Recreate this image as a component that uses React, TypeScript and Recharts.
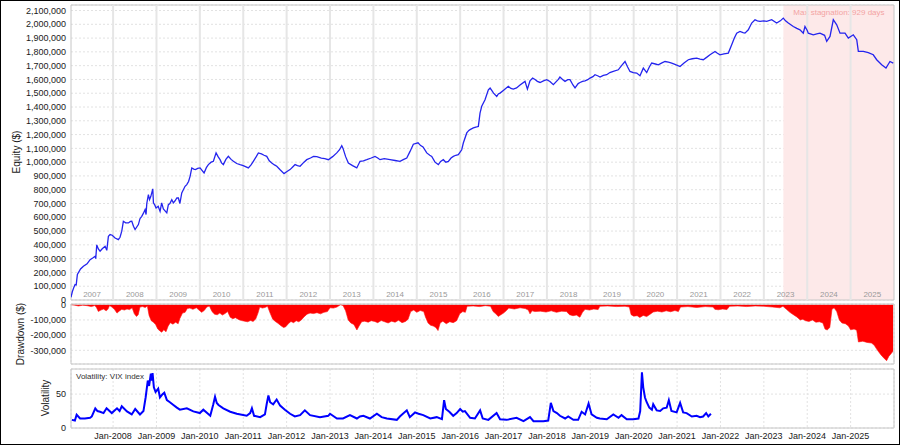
import React from 'react';
import {
  LineChart,
  Line,
  AreaChart,
  Area,
  XAxis,
  YAxis,
  CartesianGrid,
  ReferenceLine,
  ReferenceArea,
} from 'recharts';

const FONT = '"Liberation Sans", Arial, Helvetica, sans-serif';

// ---------- axis setup (fractional years) ----------
const X_MIN = 2007.03;
const X_MAX = 2026.0;
const yearBoundaries = [2008, 2009, 2010, 2011, 2012, 2013, 2014, 2015, 2016, 2017, 2018, 2019, 2020, 2021, 2022, 2023, 2024, 2025];
const yearLabels = ['2007', '2008', '2009', '2010', '2011', '2012', '2013', '2014', '2015', '2016', '2017', '2018', '2019', '2020', '2021', '2022', '2023', '2024', '2025'];
const bandStarts = [X_MIN, ...yearBoundaries];
const bandEnds = [...yearBoundaries, X_MAX];

const EQ_MAX = 2140; // $ thousands
const equityTicks = [0, 100, 200, 300, 400, 500, 600, 700, 800, 900, 1000, 1100, 1200, 1300, 1400, 1500, 1600, 1700, 1800, 1900, 2000, 2100];
const DD_MIN = -390;
const DD_MAX = 5;
const drawdownTicks = [-300, -200, -100, 0];
const VIX_MAX = 87;
const vixTicks = [0, 50];

const stagnationStart = 2023.45;
const stagnationLabel = 'Max stagnation: 929 days';

// ---------- equity ($ thousands) ----------
const eqDates = [
  2007.03, 2007.06, 2007.1, 2007.124, 2007.15, 2007.177, 2007.25, 2007.316, 2007.4, 2007.47, 2007.53, 2007.585, 2007.6, 2007.624, 2007.66, 2007.7, 2007.75, 2007.816, 2007.855, 2007.892, 2007.931, 2007.98,
  2008.046, 2008.122, 2008.16, 2008.2, 2008.237, 2008.29, 2008.353, 2008.4, 2008.431, 2008.47, 2008.507, 2008.583, 2008.62, 2008.661, 2008.7, 2008.737, 2008.76, 2008.777, 2008.814, 2008.84, 2008.869, 2008.915, 2008.93, 2008.96, 2008.991,
  2009.04, 2009.083, 2009.12, 2009.159, 2009.238, 2009.274, 2009.31, 2009.353, 2009.39, 2009.429, 2009.47, 2009.505, 2009.54, 2009.583, 2009.659, 2009.699, 2009.74, 2009.775, 2009.814, 2009.86, 2009.9, 2009.95,
  2010.005, 2010.05, 2010.097, 2010.15, 2010.196, 2010.26, 2010.312, 2010.374, 2010.42, 2010.466, 2010.5, 2010.542, 2010.6, 2010.657, 2010.72, 2010.773, 2010.85, 2010.927,
  2011.0, 2011.118, 2011.18, 2011.233, 2011.3, 2011.349, 2011.42, 2011.48, 2011.542, 2011.6, 2011.657, 2011.72, 2011.773, 2011.85, 2011.941,
  2012.0, 2012.079, 2012.14, 2012.195, 2012.25, 2012.31, 2012.4, 2012.464, 2012.55, 2012.62, 2012.695, 2012.8, 2012.88, 2012.962,
  2013.06, 2013.156, 2013.22, 2013.271, 2013.3, 2013.36, 2013.423, 2013.52, 2013.617, 2013.692, 2013.77, 2013.847, 2013.95,
  2014.038, 2014.1, 2014.153, 2014.25, 2014.384, 2014.5, 2014.614, 2014.7, 2014.769, 2014.845, 2014.921,
  2015.029, 2015.09, 2015.144, 2015.23, 2015.3, 2015.345, 2015.42, 2015.497, 2015.55, 2015.612, 2015.67, 2015.728, 2015.79, 2015.843, 2015.9, 2015.958,
  2016.036, 2016.073, 2016.152, 2016.2, 2016.228, 2016.304, 2016.38, 2016.419, 2016.458, 2016.497, 2016.573, 2016.65, 2016.69, 2016.728, 2016.77, 2016.843, 2016.88, 2016.919, 2016.995,
  2017.11, 2017.17, 2017.226, 2017.3, 2017.38, 2017.495, 2017.55, 2017.61, 2017.67, 2017.726, 2017.78, 2017.841, 2017.92, 2017.995,
  2018.07, 2018.148, 2018.263, 2018.3, 2018.36, 2018.417, 2018.48, 2018.532, 2018.6, 2018.648, 2018.72, 2018.763, 2018.82, 2018.878, 2018.94, 2018.993,
  2019.06, 2019.108, 2019.18, 2019.224, 2019.3, 2019.378, 2019.45, 2019.53, 2019.645, 2019.72, 2019.8, 2019.86, 2019.915, 2019.99,
  2020.07, 2020.145, 2020.222, 2020.3, 2020.36, 2020.415, 2020.5, 2020.568, 2020.65, 2020.722, 2020.8, 2020.876, 2020.98,
  2021.068, 2021.16, 2021.259, 2021.35, 2021.452, 2021.53, 2021.604, 2021.68, 2021.759, 2021.874, 2021.93, 2021.989,
  2022.08, 2022.181, 2022.259, 2022.32, 2022.374, 2022.45, 2022.52, 2022.565, 2022.642, 2022.72, 2022.796, 2022.85, 2022.911,
  2023.0, 2023.066, 2023.181, 2023.296, 2023.38, 2023.448, 2023.5, 2023.564, 2023.679, 2023.76, 2023.833, 2023.909, 2023.948,
  2024.0, 2024.024, 2024.14, 2024.22, 2024.294, 2024.4, 2024.449, 2024.525, 2024.601, 2024.68, 2024.756, 2024.871, 2024.947,
  2025.062, 2025.141, 2025.178, 2025.293, 2025.408, 2025.522, 2025.601, 2025.716, 2025.815, 2025.907, 2025.983,
];
const eqValuesK = [
  20, 60, 95, 112, 110, 185, 225, 245, 262, 293, 305, 317, 300, 400, 370, 354, 372, 390, 360, 462, 475, 470,
  450, 438, 455, 499, 571, 560, 559, 570, 571, 535, 511, 547, 590, 607, 630, 656, 620, 700, 764, 728, 750, 806, 705, 690, 668,
  680, 643, 705, 660, 632, 692, 700, 728, 705, 720, 740, 740, 700, 777, 825, 837, 860, 897, 958, 950, 946, 955,
  958, 940, 922, 960, 982, 1000, 1006, 1067, 1040, 1018, 995, 982, 1020, 1042, 1020, 1006, 990, 982,
  975, 958, 980, 1006, 1040, 1067, 1060, 1050, 1042, 1010, 994, 980, 970, 945, 917,
  930, 946, 965, 982, 975, 970, 1000, 1018, 1030, 1042, 1040, 1030, 1025, 1018,
  1040, 1067, 1090, 1120, 1100, 1040, 994, 975, 958, 1006, 1010, 1018, 1030,
  1042, 1030, 1018, 1025, 1018, 1012, 1006, 1020, 1030, 1078, 1130,
  1140, 1120, 1110, 1067, 1050, 1042, 1000, 982, 1005, 1018, 1000, 1006, 1030, 1042, 1050, 1054,
  1090, 1139, 1212, 1230, 1236, 1248, 1255, 1259, 1356, 1405, 1453, 1525, 1538, 1520, 1501, 1477, 1495, 1501, 1520,
  1550, 1535, 1530, 1538, 1560, 1586, 1530, 1590, 1610, 1600, 1586, 1578, 1590, 1598,
  1585, 1562, 1600, 1617, 1600, 1586, 1598, 1598, 1560, 1538, 1570, 1578, 1586, 1590, 1598, 1610,
  1620, 1634, 1625, 1617, 1630, 1634, 1650, 1658, 1670, 1700, 1730, 1690, 1658, 1650,
  1646, 1627, 1682, 1650, 1690, 1719, 1712, 1706, 1720, 1730, 1725, 1719, 1705,
  1694, 1720, 1743, 1750, 1755, 1748, 1743, 1760, 1779, 1803, 1790, 1779,
  1785, 1791, 1851, 1900, 1936, 1948, 1940, 1936, 1960, 2009, 2033, 2025, 2021,
  2025, 2021, 2033, 2009, 2025, 2045, 2025, 2009, 1984, 1970, 1960, 1936, 1984,
  1955, 1936, 1924, 1930, 1936, 1920, 1876, 1912, 2033, 1996, 1936, 1936, 1900,
  1924, 1888, 1803, 1803, 1795, 1779, 1743, 1706, 1682, 1730, 1719,
];

// ---------- drawdown ($ thousands) ----------
const ddDates = [
  2007.03, 2007.12, 2007.2, 2007.3, 2007.4, 2007.5, 2007.58, 2007.62, 2007.66, 2007.72, 2007.78, 2007.84, 2007.88, 2007.92, 2007.97,
  2008.03, 2008.09, 2008.14, 2008.2, 2008.26, 2008.32, 2008.38, 2008.44, 2008.49, 2008.54, 2008.58, 2008.62, 2008.68, 2008.74, 2008.79, 2008.83, 2008.88, 2008.93, 2008.98,
  2009.03, 2009.08, 2009.12, 2009.17, 2009.22, 2009.27, 2009.32, 2009.38, 2009.44, 2009.5, 2009.54, 2009.6, 2009.66, 2009.71, 2009.77, 2009.84, 2009.92, 2009.98,
  2010.04, 2010.1, 2010.16, 2010.22, 2010.28, 2010.34, 2010.4, 2010.46, 2010.52, 2010.58, 2010.64, 2010.7, 2010.76, 2010.82, 2010.9, 2010.96,
  2011.03, 2011.1, 2011.17, 2011.23, 2011.29, 2011.34, 2011.38, 2011.44, 2011.5, 2011.56, 2011.62, 2011.68, 2011.74, 2011.8, 2011.87, 2011.93, 2011.98,
  2012.04, 2012.1, 2012.16, 2012.22, 2012.28, 2012.34, 2012.4, 2012.47, 2012.54, 2012.62, 2012.7, 2012.78, 2012.86, 2012.94,
  2013.0, 2013.08, 2013.16, 2013.24, 2013.3, 2013.36, 2013.42, 2013.48, 2013.55, 2013.62, 2013.67, 2013.73, 2013.8, 2013.88, 2013.95,
  2014.03, 2014.1, 2014.18, 2014.26, 2014.34, 2014.42, 2014.5, 2014.58, 2014.66, 2014.74, 2014.8, 2014.86, 2014.93,
  2015.0, 2015.08, 2015.16, 2015.2, 2015.26, 2015.32, 2015.38, 2015.44, 2015.49, 2015.54, 2015.6, 2015.68, 2015.76, 2015.84, 2015.92, 2015.99,
  2016.06, 2016.12, 2016.16, 2016.3, 2016.45, 2016.58, 2016.7, 2016.76, 2016.82, 2016.88, 2016.94,
  2017.0, 2017.06, 2017.12, 2017.25, 2017.38, 2017.5, 2017.57, 2017.61, 2017.66, 2017.72, 2017.85, 2017.98,
  2018.1, 2018.22, 2018.34, 2018.45, 2018.52, 2018.6, 2018.68, 2018.76, 2018.82, 2018.88, 2018.98,
  2019.08, 2019.18, 2019.22, 2019.4, 2019.6, 2019.8, 2019.9, 2019.94,
  2020.0, 2020.08, 2020.14, 2020.22, 2020.3, 2020.38, 2020.45, 2020.55, 2020.65, 2020.75, 2020.85, 2020.95,
  2021.03, 2021.08, 2021.25, 2021.45, 2021.65, 2021.83, 2021.87, 2021.95,
  2022.05, 2022.15, 2022.21, 2022.4, 2022.6, 2022.8,
  2023.0, 2023.2, 2023.37, 2023.44, 2023.52, 2023.6, 2023.68, 2023.76, 2023.84, 2023.9, 2023.96,
  2024.04, 2024.12, 2024.2, 2024.28, 2024.36, 2024.41, 2024.46, 2024.52, 2024.57, 2024.62, 2024.68, 2024.74, 2024.8, 2024.88, 2024.95,
  2025.0, 2025.08, 2025.14, 2025.18, 2025.28, 2025.38, 2025.48, 2025.54, 2025.62, 2025.7, 2025.78, 2025.83, 2025.88, 2025.94, 2025.98,
];
const ddValuesK = [
  0, -3, -8, -3, -6, -12, -5, -20, -44, -35, -28, -40, -30, -5, -15,
  -30, -55, -42, -30, -35, -28, -32, -20, -60, -77, -65, -15, -12, -18, -8, -70, -105, -115, -130,
  -160, -172, -181, -165, -178, -140, -118, -128, -115, -125, -90, -55, -50, -25, -22, -30, -20, -35,
  -50, -38, -15, -8, -45, -62, -66, -55, -68, -58, -45, -82, -92, -85, -98, -104,
  -108, -112, -104, -110, -92, -55, -15, -22, -18, -10, -55, -95, -110, -122, -138, -150, -145,
  -125, -110, -118, -105, -112, -100, -80, -62, -55, -58, -52, -60, -50, -45,
  -20, -22, -15, 0, -5, -40, -100, -120, -130, -166, -140, -112, -108, -115, -105,
  -110, -118, -104, -112, -120, -108, -115, -102, -118, -110, -95, -45, -35,
  -50, -38, -45, -80, -120, -135, -140, -150, -170, -120, -108, -125, -112, -118, -105, -60,
  -45, -50, -10, -8, -12, -6, -10, -45, -60, -77, -65,
  -55, -40, -22, -28, -20, -25, -35, -60, -40, -45, -42, -48,
  -40, -50, -42, -45, -65, -72, -68, -82, -50, -30, -35,
  -28, -32, -10, -8, -12, -10, -15, -65,
  -75, -72, -84, -70, -78, -62, -48, -42, -48, -40, -46, -38,
  -45, -15, -12, -18, -12, -15, -30, -33,
  -28, -32, -10, -8, -12, -8,
  -10, -15, -20, -10, -30, -50, -65, -80, -100, -95, -105,
  -110, -100, -115, -112, -120, -160, -166, -150, -30, -20, -45, -100, -120, -125, -140,
  -165, -160, -168, -245, -240, -248, -252, -265, -300, -330, -355, -368, -340, -320, -305,
];

// ---------- VIX index ----------
const vixDates = [
  2007.05, 2007.12, 2007.16, 2007.24, 2007.35, 2007.47, 2007.51, 2007.59, 2007.64, 2007.7, 2007.78, 2007.85, 2007.97,
  2008.09, 2008.15, 2008.2, 2008.32, 2008.43, 2008.51, 2008.62, 2008.7, 2008.75, 2008.8, 2008.83, 2008.87, 2008.89, 2008.91, 2008.94, 2008.98,
  2009.04, 2009.08, 2009.14, 2009.18, 2009.24, 2009.31, 2009.39, 2009.47, 2009.54, 2009.7, 2009.85,
  2010.0, 2010.08, 2010.24, 2010.31, 2010.35, 2010.39, 2010.43, 2010.54, 2010.7, 2010.85,
  2011.08, 2011.16, 2011.2, 2011.25, 2011.39, 2011.5, 2011.54, 2011.58, 2011.62, 2011.69, 2011.77, 2011.85, 2011.96,
  2012.08, 2012.19, 2012.31, 2012.42, 2012.54, 2012.77, 2012.96,
  2013.0, 2013.16, 2013.3, 2013.46, 2013.62, 2013.69, 2013.77, 2013.92,
  2014.08, 2014.19, 2014.31, 2014.54, 2014.61, 2014.77, 2014.84, 2014.96,
  2015.04, 2015.15, 2015.31, 2015.46, 2015.58, 2015.63, 2015.67, 2015.75, 2015.84, 2015.92,
  2016.0, 2016.06, 2016.11, 2016.23, 2016.34, 2016.46, 2016.52, 2016.65, 2016.84, 2016.92,
  2017.07, 2017.3, 2017.46, 2017.61, 2017.69, 2017.92,
  2018.03, 2018.09, 2018.15, 2018.23, 2018.3, 2018.42, 2018.49, 2018.61, 2018.72, 2018.8, 2018.88, 2018.96,
  2019.03, 2019.15, 2019.22, 2019.38, 2019.53, 2019.65, 2019.72, 2019.84, 2019.99,
  2020.11, 2020.15, 2020.19, 2020.22, 2020.26, 2020.3, 2020.36, 2020.42, 2020.45, 2020.53, 2020.61, 2020.68, 2020.76, 2020.81, 2020.87, 2020.99,
  2021.07, 2021.14, 2021.22, 2021.34, 2021.45, 2021.53, 2021.6, 2021.67, 2021.72, 2021.78,
];
const vixValues = [
  12, 11, 19.6, 14, 14, 15, 17, 29, 25, 24, 22, 29, 22,
  29, 25, 32, 24.5, 20, 28, 20, 25, 45, 70, 62, 80, 70, 81, 60, 53,
  58, 45, 50, 52, 41, 38, 34, 30, 27, 29, 24.5,
  22, 27, 18, 35, 46, 37, 34, 29, 24, 21,
  18, 22, 29, 18, 16, 20, 35, 48, 38, 35, 42, 33, 27,
  21, 17, 19, 26, 19, 16, 18,
  21, 14, 14, 19, 14, 17, 18, 14,
  21, 16, 14, 12, 17, 26, 16, 23,
  21, 19, 14, 16, 13, 41, 28, 24, 18, 22,
  28, 24, 25, 15, 14, 26, 14, 12, 22, 13,
  12, 15, 10, 16, 10, 10,
  11, 37, 25, 22, 18, 14, 17, 12, 12, 24, 20, 36,
  20, 15, 14, 13, 20, 15, 19, 13, 13,
  14, 25, 82, 60, 45, 38, 30, 27, 35, 26, 25, 29, 30, 41, 25, 23,
  37, 23, 22, 17, 18, 16, 17, 22, 17, 21,
];

const fmtMoneyK = (v: number) => (v * 1000).toLocaleString('en-US');
const tickStyle = { fontSize: 9, fill: '#1a1a1a', fontFamily: FONT };
const BORDER = '#c6c6c6';
const GRID = '#e2e2e2';

const RotTitle = ({ text, cx, cy }: { text: string; cx: number; cy: number }) => (
  <div
    style={{
      position: 'absolute',
      left: cx,
      top: cy,
      transform: 'translate(-50%, -50%) rotate(-90deg)',
      whiteSpace: 'nowrap',
      fontSize: 10,
      fontFamily: FONT,
      color: '#1a1a1a',
      lineHeight: '12px',
    }}
  >
    {text}
  </div>
);

export default function App() {
  const eqData = eqDates.map((t, i) => ({ t, v: eqValuesK[i] }));
  const ddData = ddDates.map((t, i) => ({ t, v: ddValuesK[i] }));
  const vixData = vixDates.map((t, i) => ({ t, v: vixValues[i] }));

  const layer: React.CSSProperties = { position: 'absolute', left: 0, top: 0 };

  return (
    <div style={{ position: 'absolute', left: 0, top: 0, width: 900, height: 445, background: '#fff', fontFamily: FONT, overflow: 'hidden' }}>
      {/* Equity panel */}
      <div style={layer}>
        <LineChart width={900} height={445} data={eqData} margin={{ top: 5, right: 6, bottom: 145, left: 0 }}>
          <ReferenceArea
            x1={stagnationStart}
            x2={X_MAX}
            y1={0}
            y2={EQ_MAX}
            fill="#fde9e9"
            fillOpacity={1}
            stroke="none"
            label={{
              content: (props: any) => {
                const vb = props.viewBox || { x: 0, y: 0 };
                return (
                  <text x={vb.x + 10} y={vb.y + 10} fill="#f3a3a3" fontSize={8} fontFamily={FONT}>
                    {stagnationLabel}
                  </text>
                );
              },
            }}
          />
          <CartesianGrid vertical={false} stroke={GRID} strokeDasharray="2 2" />
          {yearBoundaries.map((y) => (
            <ReferenceLine key={'eq' + y} x={y} stroke="#e6e6e6" strokeWidth={2} />
          ))}
          {yearLabels.map((lab, i) => (
            <ReferenceArea
              key={'band' + lab}
              x1={bandStarts[i]}
              x2={bandEnds[i]}
              y1={0}
              y2={EQ_MAX}
              fill="none"
              stroke="none"
              label={{ value: lab, position: 'insideBottom', offset: 3, fill: '#9a9a9a', fontSize: 8, fontFamily: FONT }}
            />
          ))}
          <XAxis type="number" dataKey="t" domain={[X_MIN, X_MAX]} allowDataOverflow hide />
          <YAxis
            type="number"
            domain={[0, EQ_MAX]}
            allowDataOverflow
            ticks={equityTicks}
            interval={0}
            width={71}
            tickFormatter={fmtMoneyK}
            axisLine={false}
            tickLine={false}
            tickSize={0}
            tickMargin={5}
            tick={tickStyle}
          />
          <ReferenceArea x1={X_MIN} x2={X_MAX} y1={0} y2={EQ_MAX} fill="none" stroke={BORDER} strokeWidth={1} />
          <Line type="linear" dataKey="v" stroke="#2424ee" strokeWidth={1.3} dot={false} isAnimationActive={false} />
        </LineChart>
      </div>

      {/* Drawdown panel */}
      <div style={layer}>
        <AreaChart width={900} height={445} data={ddData} margin={{ top: 304, right: 6, bottom: 81, left: 0 }}>
          <CartesianGrid stroke={GRID} strokeDasharray="2 2" />
          <XAxis
            type="number"
            dataKey="t"
            domain={[X_MIN, X_MAX]}
            allowDataOverflow
            ticks={yearBoundaries}
            interval={0}
            height={0}
            tick={false}
            axisLine={false}
            tickLine={false}
          />
          <YAxis
            type="number"
            domain={[DD_MIN, DD_MAX]}
            allowDataOverflow
            ticks={drawdownTicks}
            interval={0}
            width={71}
            tickFormatter={fmtMoneyK}
            axisLine={false}
            tickLine={false}
            tickSize={0}
            tickMargin={5}
            tick={tickStyle}
          />
          <Area
            type="linear"
            dataKey="v"
            baseValue={0}
            stroke="#ff1010"
            strokeWidth={0.6}
            fill="#ff0000"
            fillOpacity={1}
            dot={false}
            activeDot={false}
            isAnimationActive={false}
          />
          <ReferenceArea x1={X_MIN} x2={X_MAX} y1={DD_MIN} y2={DD_MAX} fill="none" stroke={BORDER} strokeWidth={1} />
        </AreaChart>
      </div>

      {/* Volatility panel */}
      <div style={layer}>
        <LineChart width={900} height={445} data={vixData} margin={{ top: 369, right: 6, bottom: 2, left: 0 }}>
          <CartesianGrid stroke={GRID} strokeDasharray="2 2" />
          <XAxis
            type="number"
            dataKey="t"
            domain={[X_MIN, X_MAX]}
            allowDataOverflow
            ticks={yearBoundaries}
            interval={0}
            tickFormatter={(v: number) => 'Jan-' + v}
            height={15}
            axisLine={false}
            tickLine={false}
            tickSize={2}
            tickMargin={3}
            tick={tickStyle}
          />
          <YAxis
            type="number"
            domain={[0, VIX_MAX]}
            allowDataOverflow
            ticks={vixTicks}
            interval={0}
            width={71}
            axisLine={false}
            tickLine={false}
            tickSize={0}
            tickMargin={5}
            tick={tickStyle}
          />
          <ReferenceArea x1={X_MIN} x2={X_MAX} y1={0} y2={VIX_MAX} fill="none" stroke={BORDER} strokeWidth={1} />
          <Line type="linear" dataKey="v" stroke="#0000ff" strokeWidth={2} dot={false} isAnimationActive={false} />
        </LineChart>
      </div>

      {/* Axis titles and panel label */}
      <RotTitle text="Equity ($)" cx={17} cy={152} />
      <RotTitle text="Drawdown ($)" cx={21} cy={334} />
      <RotTitle text="Volatility" cx={46} cy={398} />
      <div style={{ position: 'absolute', left: 76, top: 372, fontSize: 8, lineHeight: '10px', fontFamily: FONT, color: '#333', whiteSpace: 'nowrap' }}>
        Volatility: VIX index
      </div>

      {/* outer frame */}
      <div style={{ position: 'absolute', left: 0, top: 0, width: 900, height: 445, boxSizing: 'border-box', border: '1px solid #000', pointerEvents: 'none' }} />
    </div>
  );
}
